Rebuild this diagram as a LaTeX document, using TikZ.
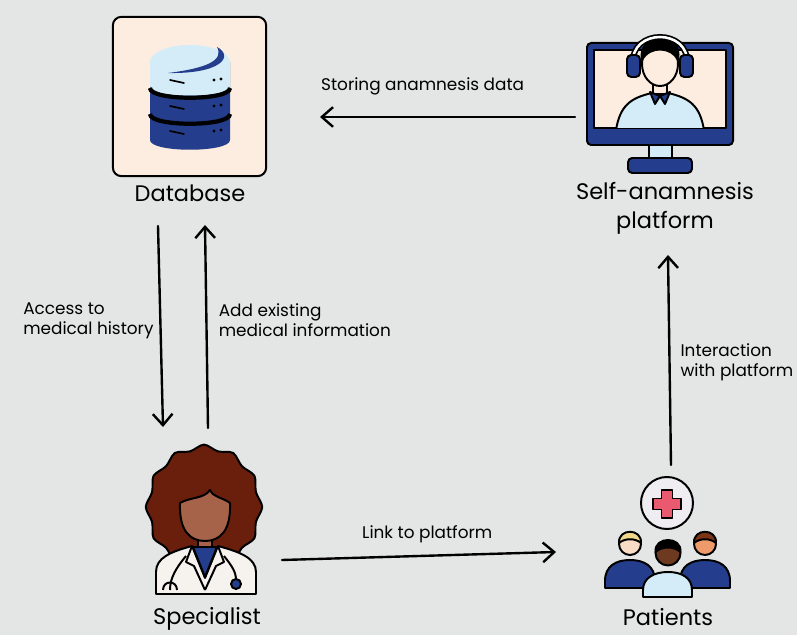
\documentclass[tikz,border=0pt]{standalone}
\usepackage{fontspec}
\setmainfont{Poppins}
\usetikzlibrary{arrows.meta,positioning}

\definecolor{paper}{HTML}{E3E6E5}
\definecolor{peach}{HTML}{FDEDE0}
\definecolor{navy}{HTML}{243E8D}
\definecolor{sky}{HTML}{D4ECF7}
\definecolor{curl}{HTML}{6A1E0C}
\definecolor{cocoa}{HTML}{A7634A}
\definecolor{coat}{HTML}{F6F3EF}
\definecolor{medred}{HTML}{E95A70}
\definecolor{badge}{HTML}{EFEDF2}
\definecolor{blond}{HTML}{EFD88C}
\definecolor{fair}{HTML}{F8DCC6}
\definecolor{tanskin}{HTML}{EE9A6A}
\definecolor{auburn}{HTML}{7B3516}
\definecolor{deep}{HTML}{6E3A1F}

\tikzset{
  flow/.style={line width=1.7pt, line cap=round,
    -{Straight Barb[length=8pt,width=14pt,line width=1.7pt]}},
  caption/.style={font=\fontsize{16}{20.5}\selectfont, align=center, inner sep=0pt},
  note/.style={font=\fontsize{12}{14.4}\selectfont, align=left, inner sep=0pt},
  ink/.style={draw=black, line width=1.4pt, line join=round},
}

\begin{document}
\begin{tikzpicture}[x=0.025cm, y=-0.025cm]
  \useasboundingbox[fill=paper] (0,0) rectangle (797,635);

  % database
  \node[ink, fill=peach, rounded corners=6pt, minimum width=3.83cm, minimum height=3.98cm] (db) at (189.5,96.5) {};
  \fill[navy] (150,62) -- (150,140) .. controls (150,153) and (230,153) .. (230,140) -- (230,62) -- cycle;
  \fill[sky] (150,62) -- (150,86) .. controls (150,99) and (230,99) .. (230,86) -- (230,62) -- cycle;
  \fill[sky] (190,62) circle [x radius=40, y radius=17];
  \fill[navy] (217,47) .. controls (234,56) and (222,74) .. (168,73) .. controls (208,68) and (224,60) .. (217,47) -- cycle;
  \draw[line width=3pt] (150,88) .. controls (150,101) and (230,101) .. (230,88);
  \draw[line width=3pt] (150,114) .. controls (150,127) and (230,127) .. (230,114);
  \foreach \y in {80,106,131} {
    \draw[line width=1.2pt, line cap=round] (170,\y) -- (184,\y+3);
    \fill (214,\y) circle (1.6);
    \fill (221,\y-1) circle (1.6);
  }
  \node[caption] (dbtext) at (190,193) {Database};

  % monitor with operator
  \node[ink, fill=navy, rounded corners=3pt, minimum width=3.65cm, minimum height=2.55cm] (screen) at (660,94) {};
  \draw[ink, fill=sky] (649,145) rectangle (672,158);
  \draw[ink, fill=navy, rounded corners=3pt] (628,158) rectangle (692,173);
  \draw[ink, fill=peach] (594,50) rectangle (726,128);
  \begin{scope}
    \clip (594,50) rectangle (726,128);
    \draw[ink, fill=sky] (616,130) .. controls (620,106) and (630,98) .. (652,93) -- (668,93) .. controls (690,98) and (700,106) .. (704,130) -- cycle;
  \end{scope}
  \draw[ink, fill=peach] (653,78) rectangle (667,94);
  \draw[ink, fill=navy] (650,92) -- (660,96) -- (655,104) -- cycle;
  \draw[ink, fill=navy] (670,92) -- (660,96) -- (665,104) -- cycle;
  \draw[ink, fill=peach] (660,64) circle [x radius=18, y radius=22];
  \draw[ink, fill=black] (642,60) .. controls (636,34) and (684,28) .. (678,60) .. controls (672,47) and (650,45) .. (642,60) -- cycle;
  \draw[line width=4.2pt] (633,64) .. controls (630,28) and (690,28) .. (687,64);
  \draw[line width=1.8pt, white] (633,64) .. controls (630,28) and (690,28) .. (687,64);
  \draw[ink, fill=navy, rounded corners=3pt] (627,55) rectangle (640,77);
  \draw[ink, fill=navy, rounded corners=3pt] (680,55) rectangle (693,77);
  \node[caption] (plattext) at (665,208) {Self-anamnesis\\platform};

  % specialist
  \draw[ink, fill=curl] plot[smooth cycle, domain=0:345, samples=24]
    ({204+56*(1+0.04*cos(12*\x))*cos(\x)}, {507+60*(1+0.04*cos(12*\x))*sin(\x)});
  \draw[ink, fill=cocoa] (198,532) rectangle (212,552);
  \draw[ink, fill=cocoa] (180,503) .. controls (179,531) and (190,541) .. (205,541) .. controls (220,541) and (231,531) .. (230,503) .. controls (222,497) and (214,498) .. (210,490) .. controls (204,499) and (190,497) .. (180,503) -- cycle;
  \draw[ink, fill=coat] (156,594) -- (156,572) .. controls (156,558) and (170,552) .. (192,546) -- (205,578) -- (218,546) .. controls (240,552) and (256,558) .. (256,572) -- (256,594) -- cycle;
  \draw[ink, fill=navy] (193,547) -- (217,547) -- (205,577) -- cycle;
  \draw[ink] (192,546) -- (186,562) -- (194,566) -- (205,590);
  \draw[ink] (218,546) -- (224,562) -- (216,566) -- (205,590);
  \draw[ink] (186,556) .. controls (176,568) and (170,578) .. (170,590);
  \draw[ink] (163,590) .. controls (163,580) and (177,580) .. (177,590);
  \draw[ink] (224,556) .. controls (232,566) and (236,572) .. (236,580);
  \draw[ink, fill=navy] (236,584) circle (5);
  \node[caption] (doctext) at (207,619) {Specialist};

  % patients
  \draw[ink, fill=badge] (667,503) circle (26);
  \draw[ink, fill=medred] (661.5,490) -- (672.5,490) -- (672.5,498.5) -- (681,498.5) -- (681,509.5) -- (672.5,509.5) -- (672.5,518) -- (661.5,518) -- (661.5,509.5) -- (653,509.5) -- (653,498.5) -- (661.5,498.5) -- cycle;
  \foreach \px/\hair/\face in {630/blond/fair, 705/auburn/tanskin} {
    \draw[ink, fill=navy] (\px-25,588) -- (\px-25,581) .. controls (\px-25,566) and (\px-14,560) .. (\px,560) .. controls (\px+14,560) and (\px+25,566) .. (\px+25,581) -- (\px+25,588) -- cycle;
    \draw[ink, fill=\face] (\px,544) circle (11);
    \draw[ink, fill=\hair] (\px-11,543) .. controls (\px-12,528) and (\px+12,528) .. (\px+11,543) .. controls (\px+5,538) and (\px-5,538) .. (\px-11,543) -- cycle;
  }
  \draw[ink, fill=sky] (643,597) -- (643,590) .. controls (643,578) and (654,572) .. (668,572) .. controls (682,572) and (692,578) .. (692,590) -- (692,597) -- cycle;
  \draw[ink, fill=deep] (668,553) circle (12.5);
  \draw[ink, fill=black] (655.5,552) .. controls (654,536) and (682,536) .. (680.5,552) .. controls (674,546) and (662,546) .. (655.5,552) -- cycle;
  \node[caption] (pattext) at (668,617) {Patients};

  % arrow end points
  \coordinate (st-a) at (575,117);
  \coordinate (st-b) at (320,117);
  \coordinate (dn-a) at (158,226);
  \coordinate (dn-b) at (163,427);
  \coordinate (up-a) at (208,428);
  \coordinate (up-b) at (205,225);
  \coordinate (ln-a) at (282,560);
  \coordinate (ln-b) at (556,552);
  \coordinate (in-a) at (671,465);
  \coordinate (in-b) at (668,255);

  \draw[flow] (st-a) to node[note, pos=1, anchor=south west, yshift=15pt] {Storing anamnesis data} (st-b);
  \draw[flow] (dn-a) to node[note, pos=0.47, anchor=east, xshift=-4pt] {Access to\\medical history} (dn-b);
  \draw[flow] (up-a) to node[note, pos=0.53, anchor=west, xshift=8pt] {Add existing\\medical information} (up-b);
  \draw[flow] (ln-a) to node[note, pos=0.53, anchor=south, yshift=8pt] {Link to platform} (ln-b);
  \draw[flow] (in-a) to node[note, pos=0.49, anchor=west, xshift=7pt] {Interaction\\with platform} (in-b);
\end{tikzpicture}
\end{document}
